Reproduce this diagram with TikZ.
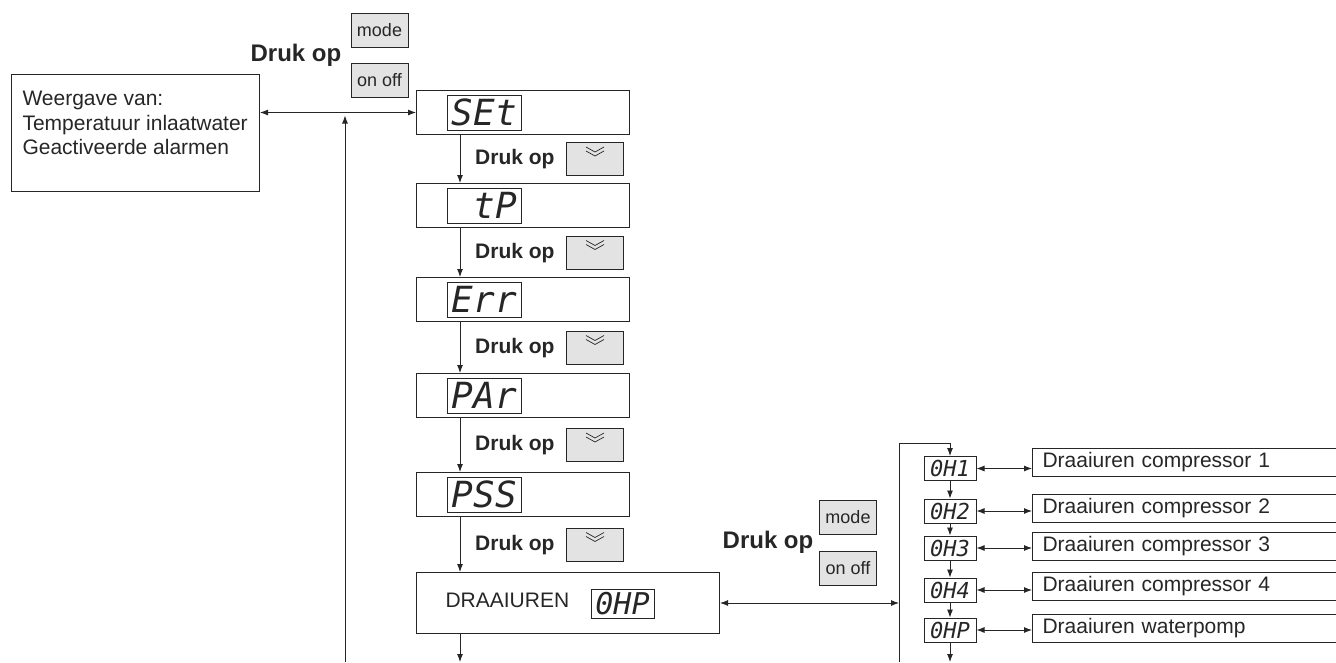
\documentclass[tikz,border=0pt]{standalone}
\usepackage{fontspec}
\setmainfont{Liberation Sans}
\newfontfamily\segfont{DejaVu Sans Mono}
\usetikzlibrary{arrows.meta, calc, positioning}

\definecolor{ink}{gray}{0.15}
\definecolor{keygray}{gray}{0.89}

\begin{document}
\begin{tikzpicture}[x=1pt, y=-1pt, line width=1pt, color=ink,
  every node/.style={font=\fontsize{21}{24.5}\selectfont},
  panel/.style={draw, minimum width=213pt, minimum height=44pt, inner sep=0pt, anchor=north west},
  disp/.style={draw, minimum width=74pt, minimum height=35pt, inner sep=0pt,
    font=\segfont\itshape\fontsize{36}{36}\selectfont},
  sdisp/.style={disp, minimum width=52pt, minimum height=24pt,
    font=\segfont\itshape\fontsize{22}{22}\selectfont},
  key/.style={draw, fill=keygray, minimum width=57pt, minimum height=34pt, inner sep=0pt,
    font=\fontsize{18}{18}\selectfont},
  druk/.style={inner sep=0pt, font=\bfseries\fontsize{21}{21}\selectfont},
  bigdruk/.style={inner sep=0pt, font=\bfseries\fontsize{24}{24}\selectfont},
  lbl/.style={draw, anchor=west, minimum width=320pt, minimum height=28pt, text width=300pt,
    text height=15pt, text depth=5pt, inner xsep=10pt, inner ysep=0pt, align=left},
  arr/.style={line width=0.9pt, -{Latex[length=8pt, width=6pt]}},
  dbl/.style={line width=0.9pt, {Latex[length=8pt, width=6pt]}-{Latex[length=8pt, width=6pt]}}]
  \useasboundingbox (0,0) rectangle (1336,662);

  % display box on the left
  \node[draw, minimum width=248pt, minimum height=117pt, anchor=north west] (wgv) at (11,74) {};
  \node[anchor=north west, align=left, inner sep=0pt] (wgvtxt) at (22,91)
    {Weergave van:\\Temperatuur inlaatwater\\Geactiveerde alarmen};

  % top keys
  \node[key] (m1) at (379.5,30) {mode};
  \node[key] (o1) at (379.5,80) {on off};
  \node[bigdruk, anchor=base] (d0) at (296,61) {Druk op};

  % menu column
  \foreach \n/\t/\y in {set/SEt/90, tp/{\hphantom{t}tP}/183, err/Err/277, par/PAr/373, pss/PSS/472} {
    \node[panel] (\n) at (416,\y) {};
    \node[disp, anchor=west] (\n-d) at ([xshift=31pt]\n.west) {\t};
  }
  \node[panel, minimum width=303pt, minimum height=61pt] (dr) at (416,572) {};
  \node[anchor=base west, inner sep=0pt] (drtxt) at (445,607) {DRAAIUREN};
  \node[disp, minimum width=63pt, minimum height=29pt,
    font=\segfont\itshape\fontsize{30}{30}\selectfont] (dr-d) at (622.5,603.5) {0HP};

  % steps down with the arrow key
  \foreach \a/\b in {set/tp, tp/err, err/par, par/pss, pss/dr} {
    \draw[arr] ([xshift=44pt]\a.south west) -- ([xshift=44pt]\b.north west);
    \node[key, minimum height=33pt] (k\a) at ($(\a.south)!0.5!(\a.south |- \b.north)+(72,0)$) {};
    \draw[line width=0.7pt] ([shift={(-9,-12)}]k\a.center) -- ++(9,5) -- ++(9,-5)
      ([shift={(-9,-8)}]k\a.center) -- ++(9,5) -- ++(9,-5);
    \node[druk, anchor=base east] (d\a) at ([shift={(-11,5.5)}]k\a.west) {Druk op};
  }
  \coordinate (drout) at (460,662);
  \draw[arr] ([xshift=44pt]dr.south west) -- (drout);

  % back and forth to the left box
  \draw[dbl] (wgv.east |- set.west) -- (set.west);
  \coordinate (ret) at (345,662);
  \draw[arr] (ret) -- ($(ret |- set.west)+(0,3)$);

  % draaiuren sub menu
  \node[key] (m2) at (848,517.5) {mode};
  \node[key] (o2) at (848,568.5) {on off};
  \node[bigdruk, anchor=base] (d2) at (768,548) {Druk op};
  \foreach \i/\t/\y/\ly/\txt in {1/0H1/468.5/462.5/Draaiuren compressor 1,
      2/0H2/511/508.5/Draaiuren compressor 2, 3/0H3/548/546.5/Draaiuren compressor 3,
      4/0H4/590/586/Draaiuren compressor 4, 5/0HP/630/628.5/Draaiuren waterpomp} {
    \node[sdisp] (h\i) at (950,\y) {\t};
    \node[lbl] (l\i) at (1032,\ly) {\txt};
    \draw[dbl] (h\i.east) -- (h\i.east -| l\i.west);
  }
  \foreach \a/\b in {1/2, 2/3, 3/4, 4/5}
    \draw[arr] (h\a.south) -- (h\b.north);
  \coordinate (hout) at (950,662);
  \draw[arr] (h5.south) -- (hout);

  \coordinate (bust) at (899,443);
  \coordinate (busb) at (899,662);
  \draw[arr] (busb) -- (bust) -| (h1.north);
  \draw[dbl] (dr.east) -- (dr.east -| bust);
\end{tikzpicture}
\end{document}
